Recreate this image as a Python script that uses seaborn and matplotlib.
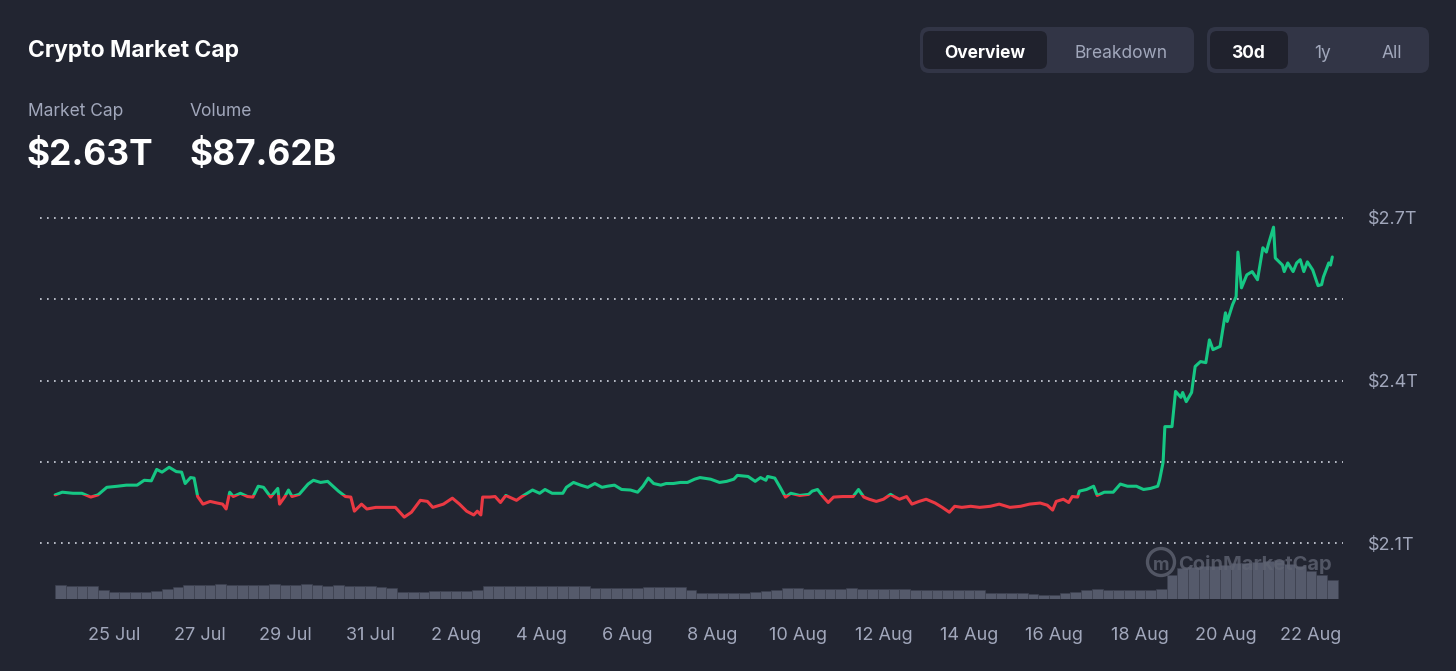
import matplotlib
matplotlib.use("Agg")
import matplotlib.pyplot as plt
from matplotlib.patches import FancyBboxPatch, Rectangle, Circle
from matplotlib.transforms import IdentityTransform, blended_transform_factory
import seaborn as sns
import pandas as pd

# market cap samples: hours since 23 Jul 00:00, value in $T
hours = [15, 19, 25, 30, 35, 39, 44, 50, 55, 61, 65, 69, 72, 75, 79, 83, 86, 88, 91, 93,
         95, 98, 102, 106, 109, 111, 113, 115, 119, 123, 126, 129, 132, 136, 140, 141, 144, 146, 148, 152,
         157, 160, 164, 168, 171, 174, 178, 181, 183, 187, 190, 195,
         199, 206, 211, 215, 220, 224, 227, 233, 238, 242, 246, 250, 252, 254, 255, 259, 262, 265, 268, 270,
         274, 277, 280, 283, 287, 290, 294, 300, 302, 306, 310, 314, 318, 322, 325, 329, 333, 338, 342, 345,
         348, 351, 355, 358, 362, 366, 370, 374,
         377, 383, 388, 392, 396, 398, 404, 408, 411, 414, 415, 419, 422, 425, 428, 433, 438, 440, 443, 446,
         449, 452, 457, 463, 466, 469, 472, 476, 480, 484, 486, 489, 493, 496, 500, 504, 509, 513, 517, 520,
         524, 529, 534, 540, 545, 551, 557,
         562, 568, 572, 575, 577, 581, 584, 586, 589, 590, 594, 598, 600, 604, 609, 613, 617, 622, 626, 630,
         634, 635,
         637, 638, 642, 644, 647, 648, 650, 653, 655, 658, 661, 663, 665, 669, 672, 673, 676, 678, 679, 681,
         684, 687, 690, 693, 695, 696, 699, 700, 704, 705, 707, 710, 712, 714, 716, 718, 721, 724, 726, 727,
         730, 731, 732]
cap = [2.189, 2.194, 2.192, 2.192, 2.185, 2.189, 2.203, 2.205, 2.207, 2.207, 2.216, 2.215, 2.236, 2.231, 2.240, 2.232, 2.231, 2.210, 2.221, 2.220,
       2.186, 2.172, 2.177, 2.174, 2.172, 2.163, 2.194, 2.186, 2.192, 2.186, 2.185, 2.205, 2.203, 2.185, 2.201, 2.172, 2.186, 2.198, 2.186, 2.190,
       2.209, 2.216, 2.212, 2.214, 2.205, 2.196, 2.186, 2.185, 2.159, 2.172, 2.163, 2.166,
       2.166, 2.166, 2.148, 2.157, 2.179, 2.177, 2.166, 2.172, 2.183, 2.172, 2.159, 2.152, 2.159, 2.152, 2.185, 2.185, 2.186, 2.175, 2.188, 2.185,
       2.179, 2.186, 2.192, 2.198, 2.192, 2.199, 2.192, 2.192, 2.203, 2.212, 2.207, 2.203, 2.210, 2.203, 2.205, 2.207, 2.199, 2.198, 2.194, 2.205,
       2.220, 2.210, 2.207, 2.210, 2.210, 2.212, 2.212, 2.218,
       2.221, 2.218, 2.212, 2.214, 2.218, 2.225, 2.223, 2.214, 2.221, 2.216, 2.223, 2.220, 2.203, 2.185, 2.192, 2.188, 2.190, 2.196, 2.199, 2.186,
       2.175, 2.185, 2.186, 2.186, 2.199, 2.185, 2.181, 2.177, 2.181, 2.190, 2.186, 2.181, 2.186, 2.172, 2.177, 2.181, 2.174, 2.166, 2.157, 2.168,
       2.166, 2.168, 2.166, 2.168, 2.172, 2.166, 2.168,
       2.172, 2.174, 2.170, 2.161, 2.177, 2.181, 2.175, 2.186, 2.185, 2.196, 2.199, 2.205, 2.188, 2.194, 2.194, 2.209, 2.205, 2.205, 2.199, 2.201,
       2.205, 2.216,
       2.249, 2.315, 2.315, 2.380, 2.369, 2.378, 2.361, 2.378, 2.426, 2.435, 2.433, 2.475, 2.457, 2.463, 2.525, 2.509, 2.540, 2.555, 2.637, 2.571,
       2.595, 2.601, 2.586, 2.645, 2.637, 2.650, 2.683, 2.626, 2.613, 2.601, 2.617, 2.601, 2.617, 2.623, 2.601, 2.619, 2.604, 2.575, 2.577, 2.591,
       2.617, 2.613, 2.628]

# 24h volume in $B, every 6 hours starting at hour 18
vol_hours = list(range(18, 733, 6))
volume = [66, 62, 59, 59, 44, 33, 33, 33, 33, 37,
          46, 55, 64, 66, 66, 68, 66, 66, 66, 66,
          68, 66, 66, 68, 64, 62, 64, 62, 62, 59,
          57, 53, 33, 33, 33, 37, 37, 37, 37, 40,
          59, 59, 59, 59, 59, 59, 59, 59, 62, 59,
          51, 51, 51, 53, 51, 55, 55, 55, 55, 40,
          26, 26, 26, 26, 29, 31, 37, 40, 53, 51,
          48, 48, 48, 48, 51, 48, 48, 48, 48, 46,
          42, 42, 40, 42, 40, 40, 40, 29, 26, 26,
          26, 24, 20, 20, 29, 31, 44, 46, 42, 42,
          42, 42, 42, 48, 114, 145, 150, 154, 154, 158,
          167, 167, 172, 176, 180, 163, 154, 132, 114, 88]

y_ticks = [2.1, 2.4, 2.7]
y_grid = [2.25, 2.55]
tick_days = pd.date_range("2024-07-25", "2024-08-22", freq="2D")

BG = "#222531"
GREEN = "#16c784"
RED = "#ea3943"
GREY = "#a1a7bb"
W, H = 1456, 671

sns.set_style("dark")
plt.rcParams["font.family"] = ["Inter", "DejaVu Sans"]

start = pd.Timestamp("2024-07-23")
df = pd.DataFrame({"time": start + pd.to_timedelta(hours, unit="h"), "cap": cap})
vdf = pd.DataFrame({"time": start + pd.to_timedelta(vol_hours, unit="h"), "volume": volume})

fig = plt.figure(figsize=(W / 100, H / 100), dpi=100, facecolor=BG)


def fx(x):
    return x / W


def fy(y):
    return 1 - y / H


# volume axes (bottom band)
vax = fig.add_axes([fx(40), fy(599), fx(1343) - fx(40), fy(540) - fy(599)])
vax.set_facecolor("none")
vax.bar(vdf["time"], vdf["volume"], width=pd.Timedelta(hours=6), color="#555a6b",
        edgecolor="#3d4150", linewidth=0.5)
vax.set_ylim(0, 275)

# price axes
ax = fig.add_axes([fx(40), fy(600), fx(1343) - fx(40), fy(200) - fy(600)])
ax.set_facecolor("none")
ax.set_ylim(1.9951, 2.7331)

# green above the opening value, red below it
base = cap[0]
blend = blended_transform_factory(ax.transAxes, ax.transData)
sns.lineplot(data=df, x="time", y="cap", ax=ax, color=GREEN, linewidth=2.2)
up_line = ax.lines[-1]
sns.lineplot(data=df, x="time", y="cap", ax=ax, color=RED, linewidth=2.2)
dn_line = ax.lines[-1]
up_line.set_clip_path(Rectangle((0, base), 1, 5, transform=blend))
dn_line.set_clip_path(Rectangle((0, base - 5), 1, 5, transform=blend))
for ln in (up_line, dn_line):
    ln.set_solid_joinstyle("round")
    ln.set_solid_capstyle("round")

xmin = start + pd.Timedelta(hours=6.5)
xmax = start + pd.Timedelta(hours=738)
for a in (ax, vax):
    a.set_xlim(xmin, xmax)
    for s in a.spines.values():
        s.set_visible(False)
    a.grid(False)
    a.set_xlabel("")
    a.set_ylabel("")

for g in y_ticks + y_grid:
    ax.axhline(g, color="#d0d4de", linewidth=1.2, linestyle=(0, (1, 3.2)), zorder=0)

ax.yaxis.tick_right()
ax.set_yticks(y_ticks)
ax.set_yticklabels([f"${v:.1f}T" for v in y_ticks])
ax.tick_params(axis="y", length=0, pad=18, labelsize=13, labelcolor=GREY)
ax.set_xticks([])

vax.set_yticks([])
vax.set_xticks(tick_days)
vax.set_xticklabels([f"{d.day} {d:%b}" for d in tick_days])
vax.tick_params(axis="x", length=0, pad=20, labelsize=13, labelcolor=GREY)

# header text
fig.text(fx(28), fy(51), "Crypto Market Cap", color="white", fontsize=16.5, fontweight="bold", va="center")
fig.text(fx(28), fy(111), "Market Cap", color=GREY, fontsize=12.5, va="center")
fig.text(fx(190), fy(111), "Volume", color=GREY, fontsize=12.5, va="center")
fig.text(fx(27), fy(155), "$2.63T", color="white", fontsize=25.5, fontweight="bold", va="center")
fig.text(fx(189), fy(155), "$87.62B", color="white", fontsize=25.5, fontweight="bold", va="center")


def box(x0, y0, x1, y1, color, r):
    fig.add_artist(FancyBboxPatch((x0, H - y1), x1 - x0, y1 - y0,
                                  boxstyle=f"round,pad=0,rounding_size={r}",
                                  fc=color, ec="none", transform=IdentityTransform()))


box(920, 27, 1194, 73, "#323546", 9)
box(923, 31, 1047, 69, "#20222d", 7)
box(1207, 27, 1429, 73, "#323546", 9)
box(1210, 31, 1288, 69, "#20222d", 7)
fig.text(fx(985), fy(53), "Overview", color="white", fontsize=12.5, fontweight="bold", ha="center", va="center")
fig.text(fx(1121), fy(53), "Breakdown", color=GREY, fontsize=12.5, ha="center", va="center")
fig.text(fx(1248), fy(53), "30d", color="white", fontsize=12.5, fontweight="bold", ha="center", va="center")
fig.text(fx(1323), fy(53), "1y", color=GREY, fontsize=12.5, ha="center", va="center")
fig.text(fx(1392), fy(53), "All", color=GREY, fontsize=12.5, ha="center", va="center")

# watermark
WM = "#5f6372"
fig.add_artist(Circle((1161, H - 562), 13.5, fill=False, ec=WM, lw=2.4,
                      alpha=0.8, transform=IdentityTransform()))
fig.text(fx(1161), fy(565), "m", color=WM, fontsize=13, fontweight="bold", ha="center", va="center", alpha=0.8)
fig.text(fx(1178), fy(565), "CoinMarketCap", color=WM, fontsize=14.5, fontweight="bold",
         va="center", alpha=0.8)

fig.savefig("out.png", dpi=100, facecolor=BG)
